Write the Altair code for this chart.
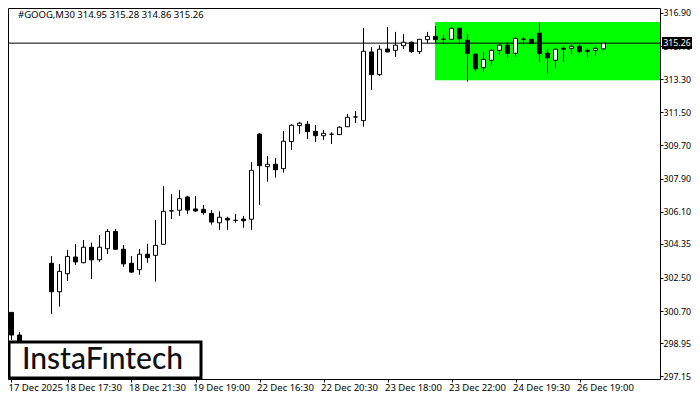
import json
import altair as alt
import pandas as pd

opens = [300.30,300.63,299.40,298.80,298.40,298.70,303.30,301.75,302.73,303.64,303.33,304.17,303.49,304.09,305.03,304.06,
         303.30,302.95,303.79,303.73,304.33,306.15,306.18,306.90,306.25,306.23,306.01,305.50,305.74,305.63,305.70,305.69,
         310.32,308.55,308.68,308.44,309.91,310.78,310.85,310.47,310.23,310.31,310.29,310.72,311.25,311.05,314.78,313.55,
         314.94,314.87,315.12,315.31,314.80,315.45,315.63,315.47,315.47,316.07,315.42,314.66,313.93,314.33,314.87,315.15,
         314.71,315.47,315.47,315.80,314.71,314.33,314.98,314.98,315.09,314.87,314.87,314.95]
highs = [300.80,300.63,299.56,299.00,298.90,299.05,303.69,303.26,304.02,304.35,304.56,304.42,304.83,305.16,305.16,304.29,
         303.69,304.07,304.36,305.65,307.50,307.06,307.28,306.97,306.95,306.47,306.19,306.12,305.83,305.98,305.87,308.80,
         310.38,309.13,309.02,310.49,310.85,310.98,311.03,310.81,310.54,310.42,310.74,311.41,311.57,316.09,315.04,315.15,
         316.14,315.87,315.76,315.34,315.47,315.87,316.19,315.70,316.14,316.07,315.76,314.71,314.76,314.93,315.25,315.31,
         315.58,315.58,315.47,316.41,314.93,314.98,315.09,315.20,315.20,314.98,315.09,315.28]
lows = [299.88,299.13,298.60,298.20,298.10,298.40,300.54,300.94,302.34,303.20,303.30,302.44,303.38,303.80,304.02,303.11,
        302.77,302.67,303.33,302.30,304.33,305.70,305.87,305.98,306.08,305.94,305.40,305.11,305.11,305.50,305.23,305.11,
        306.47,307.73,307.95,308.22,309.46,310.32,310.05,309.89,310.00,309.78,310.29,310.72,310.92,310.72,312.72,313.48,
        314.78,314.51,314.94,314.73,314.67,315.25,315.27,315.25,315.47,315.25,313.17,313.71,313.71,314.09,314.63,314.47,
        314.52,315.18,315.25,314.25,313.60,313.93,314.25,314.69,314.69,314.47,314.58,314.86]
closes = [300.63,299.40,298.80,298.40,298.70,299.00,301.75,302.86,303.67,303.37,304.17,303.48,304.17,305.03,304.06,303.27,
          302.82,303.79,303.60,304.27,306.12,306.14,306.81,306.19,306.14,306.05,305.54,305.80,305.65,305.63,305.61,308.35,
          308.60,308.68,308.38,309.93,310.80,310.91,310.45,310.23,310.36,310.31,310.69,311.23,311.25,314.82,313.55,314.93,
          314.78,315.15,315.31,314.80,315.47,315.63,315.45,315.47,316.07,315.50,314.71,313.87,314.38,314.87,315.15,314.71,
          315.52,315.47,315.25,314.69,314.47,314.93,314.93,315.09,314.80,314.82,314.98,315.26]

price_ticks = [316.90,315.10,313.30,311.50,309.70,307.90,306.10,304.35,302.50,300.70,298.95,297.15]
time_ticks = [0.94,8,16,24,32,40,48,56,64,72]
time_labels = ["17 Dec 2025","18 Dec 17:30","18 Dec 21:30","19 Dec 19:00","22 Dec 16:30",
               "22 Dec 20:30","23 Dec 18:00","23 Dec 22:00","24 Dec 19:30","26 Dec 19:00"]
x_domain = [0.5625,82.0625]
y_domain = [297.01,317.17]
last_price = 315.26
zone = {"x0":[53.94],"x1":[82.0625],"p0":[313.24],"p1":[316.41]}
header = "#GOOG,M30  314.95 315.28 314.86 315.26"
logo = "InstaFıntech"
FONT = "Noto Sans"

df = pd.DataFrame({"i":range(len(opens)),"o":opens,"h":highs,"l":lows,"c":closes})
df["up"] = df.c >= df.o

label_map = {str(v):t for v,t in zip(time_ticks,time_labels)}
xs = alt.Scale(domain=x_domain,nice=False,zero=False,padding=0)
ys = alt.Scale(domain=y_domain,nice=False,zero=False,padding=0)

xax = alt.Axis(values=time_ticks,labelExpr=f"{json.dumps(label_map)}[''+datum.value]",title=None,grid=False,
               orient="bottom",domain=False,tickColor="black",tickSize=3,labelAlign="left",labelPadding=0,labelOffset=-3,
               labelFont=FONT,labelFontSize=9.5,labelColor="black",labelOverlap=False,labelFlush=False,labelBound=False)
yax = alt.Axis(values=price_ticks,format=".2f",title=None,grid=False,orient="right",domain=False,
               tickColor="black",tickSize=3,labelPadding=0,labelFont=FONT,labelFontSize=8.8,labelColor="black",
               labelOverlap=False,labelBound=False,labelFlush=False)

X = alt.X("i:Q",scale=xs,axis=xax)
band = alt.Chart(pd.DataFrame(zone)).mark_rect(color="#00ff00",clip=True).encode(
    x=alt.X("x0:Q",scale=xs,axis=xax),x2="x1:Q",
    y=alt.Y("p0:Q",scale=ys,axis=yax),y2="p1:Q")
line = alt.Chart(pd.DataFrame({"p":[last_price]})).mark_rule(color="black",strokeWidth=1,clip=True).encode(
    y=alt.Y("p:Q",scale=ys,axis=yax))
wick = alt.Chart(df).mark_rule(color="black",strokeWidth=1,clip=True).encode(
    x=X,y=alt.Y("l:Q",scale=ys,axis=yax),y2="h:Q")
body = alt.Chart(df).mark_bar(size=4,stroke="black",strokeWidth=1,clip=True).encode(
    x=X,y=alt.Y("o:Q",scale=ys,axis=yax),y2="c:Q",
    fill=alt.Fill("up:N",scale=alt.Scale(domain=[True,False],range=["white","black"]),legend=None))
head = alt.Chart(pd.DataFrame({"t":[header]})).mark_text(align="left",baseline="middle",font=FONT,fontSize=9.5,color="black").encode(
    x=alt.value(10),y=alt.value(7),text="t:N")
tag = alt.Chart(pd.DataFrame({"a":[1]})).mark_rect(color="black").encode(
    x=alt.value(654),x2=alt.value(684),y=alt.value(29),y2=alt.value(41))
tag_text = alt.Chart(pd.DataFrame({"p":[last_price]})).mark_text(align="center",baseline="middle",font=FONT,fontSize=8.8,color="white").encode(
    x=alt.value(669),y=alt.Y("p:Q",scale=ys,axis=yax),text=alt.Text("p:Q",format=".2f"))
box = alt.Chart(pd.DataFrame({"a":[1]})).mark_rect(fill="white",stroke="black",strokeWidth=3).encode(
    x=alt.value(1),x2=alt.value(193),y=alt.value(334),y2=alt.value(370))
brand = alt.Chart(pd.DataFrame({"t":[logo]})).mark_text(align="left",baseline="middle",font="Lato",fontSize=30,fontWeight=500,color="#111111").encode(
    x=alt.value(14),y=alt.value(352),text="t:N")

chart = alt.layer(band,line,wick,body,head,tag,tag_text,box,brand).properties(
    width=652,height=371,padding={"left":0,"top":0,"right":32,"bottom":13},
    autosize=alt.AutoSizeParams(type="none"),background="white"
).configure_view(stroke="black",strokeWidth=1)

chart.save("out.html", embed_options={"renderer": "svg", "actions": False})
